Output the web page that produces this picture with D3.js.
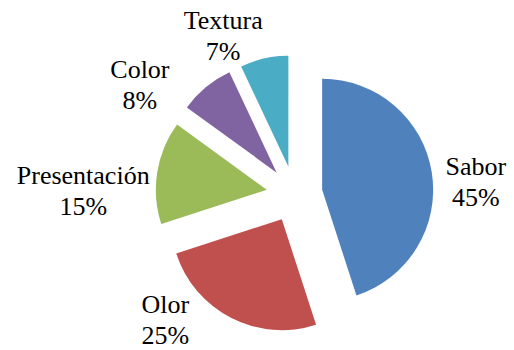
<!DOCTYPE html>
<html>
<head>
<meta charset="utf-8">
<script src="https://cdn.jsdelivr.net/npm/d3@7"></script>
<style>
  body { margin: 0; background: #fff; }
  text { font-family: "Liberation Serif", "Times New Roman", serif; font-size: 26px; fill: #000; }
</style>
</head>
<body>
<script>
// data
var categories = ["Sabor", "Olor", "Presentación", "Color", "Textura"];
var values = [45, 25, 15, 8, 7];
var colors = ["#4F81BD", "#C0504D", "#9BBB59", "#8064A2", "#4BACC6"];

// label nudges from the outer mid point of each exploded slice (layout only)
var labelNudge = [[44, 3], [-66, -5], [-74, 12], [-66, -9], [-41, -30]];

var width = 514, height = 350;
var cx = 294.5, cy = 194.2;
var radius = 111, explode = 28, lineGap = 31;

var svg = d3.select("body").append("svg")
    .attr("width", width)
    .attr("height", height);

var pie = d3.pie().sort(null).value(function(d) { return d; });
var arc = d3.arc().innerRadius(0).outerRadius(radius);
var slices = pie(values);

function mid(d) { return (d.startAngle + d.endAngle) / 2; }
function polar(a, r) { return [Math.sin(a) * r, -Math.cos(a) * r]; }

var g = svg.append("g").attr("transform", "translate(" + cx + "," + cy + ")");

g.selectAll("path")
    .data(slices)
    .enter().append("path")
      .attr("d", arc)
      .attr("fill", function(d, i) { return colors[i]; })
      .attr("transform", function(d) {
          var p = polar(mid(d), explode);
          return "translate(" + p[0] + "," + p[1] + ")"; });

var label = g.selectAll("text")
    .data(slices)
    .enter().append("text")
      .attr("text-anchor", "middle")
      .attr("transform", function(d, i) {
          var p = polar(mid(d), explode + radius);
          return "translate(" + (p[0] + labelNudge[i][0]) + "," + (p[1] + labelNudge[i][1]) + ")"; });

label.append("tspan")
    .attr("x", 0).attr("y", 0)
    .text(function(d, i) { return categories[i]; });
label.append("tspan")
    .attr("x", 0).attr("y", lineGap)
    .text(function(d) { return d.data + "%"; });
</script>
</body>
</html>
